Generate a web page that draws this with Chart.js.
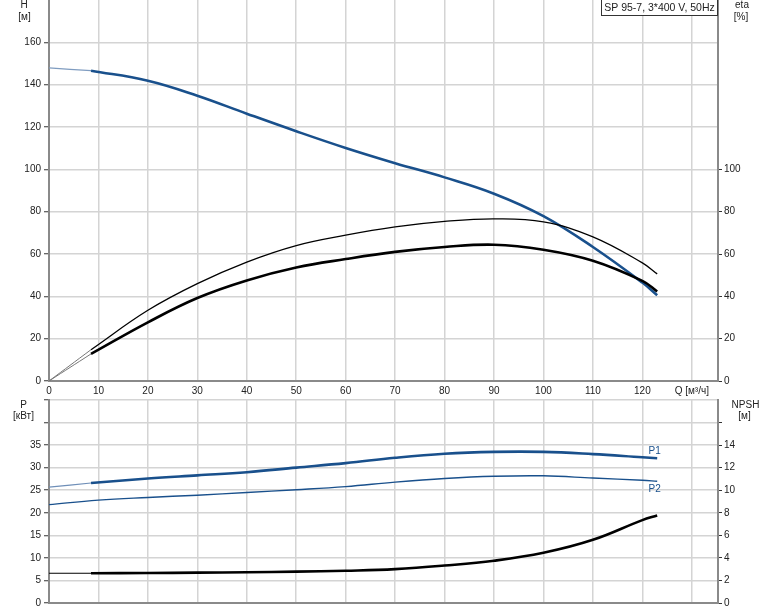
<!DOCTYPE html>
<html>
<head>
<meta charset="utf-8">
<script src="https://cdn.jsdelivr.net/npm/chart.js@4/dist/chart.umd.min.js"></script>
<style>
    body { margin: 0; background: #fff; width: 774px; height: 611px; overflow: hidden; position: relative; }
    #top-canvas { position: absolute; left: 0; top: 0; }
    #bottom-canvas { position: absolute; left: 0; top: 398px; }
</style>
</head>
<body>
<canvas id="top-canvas" width="774" height="400"></canvas>
<canvas id="bottom-canvas" width="774" height="213"></canvas>
<script>
// ********************** Data ********************** //
const qStart = [0, 8.5];   // thin part of the curves (outside the working range)
const qMain = [8.5, 20, 30, 40, 50, 60, 70, 80, 90, 100, 110, 120, 123];

const headStart = [147.9, 146.6];
const headMain = [146.6, 141.9, 134.8, 126.3, 118.0, 110.1, 102.9, 96.2, 88.5, 77.9, 63.3, 46.5, 40.5];

const etaStart = [0, 14.8];
const etaMain = [14.8, 33.4, 46.0, 56.2, 64.0, 68.9, 72.8, 75.4, 76.6, 75.2, 68.1, 55.8, 50.6];

const eta2Start = [0, 12.8];
const eta2Main = [12.8, 27.7, 39.2, 47.5, 53.6, 57.6, 61.0, 63.3, 64.4, 62.0, 56.8, 47.3, 42.3];

const p1Start = [25.7, 26.6];
const p1Main = [26.6, 27.6, 28.3, 29.0, 30.0, 31.0, 32.2, 33.1, 33.5, 33.5, 33.0, 32.3, 32.1];

const qP2 = [0, 10, 20, 30, 40, 50, 60, 70, 80, 90, 100, 110, 120, 123];
const p2 = [21.8, 22.8, 23.4, 23.9, 24.5, 25.1, 25.8, 26.8, 27.6, 28.1, 28.2, 27.7, 27.2, 27.0];

const npshStart = [2.64, 2.64];
const npshMain = [2.64, 2.66, 2.69, 2.72, 2.78, 2.86, 3.0, 3.32, 3.75, 4.45, 5.6, 7.35, 7.76];

const headTicks = [0, 20, 40, 60, 80, 100, 120, 140, 160];
const etaTicks = [0, 20, 40, 60, 80, 100];
const powerTicks = [0, 5, 10, 15, 20, 25, 30, 35];
const npshTicks = [0, 2, 4, 6, 8, 10, 12, 14];

const pumpTitle = 'SP 95-7, 3*400 V, 50Hz';

const blue = '#19508c';
const gridColor = '#d4d4d4';
const axisColor = '#8a8a8a';
const textColor = '#222';
const font = { family: '"Liberation Sans", Arial, sans-serif', size: 10 };

function pts(xs, ys) {
    return xs.map((x, i) => ({ x: x, y: ys[i] }));
}

function line(data, color, width, axis) {
    return {
        data: data,
        borderColor: color,
        borderWidth: width,
        pointRadius: 0,
        tension: 0.4,
        fill: false,
        yAxisID: axis
    };
}

// fixed sizes so that both plots line up like the original
function fixWidth(w) {
    return (scale) => { scale.width = w; scale.paddingTop = 0; scale.paddingBottom = 0; };
}
function fixHeight(h) {
    return (scale) => { scale.height = h; scale.paddingLeft = 0; scale.paddingRight = 0; };
}

// texts outside the plot (axis titles, box, P1/P2)
const textPlugin = {
    id: 'extraTexts',
    afterDraw(chart, args, opts) {
        const ctx = chart.ctx;
        ctx.save();
        ctx.font = '10px "Liberation Sans", Arial, sans-serif';
        ctx.textAlign = 'center';
        ctx.textBaseline = 'middle';
        if (opts.box) {
            ctx.font = '10.5px "Liberation Sans", Arial, sans-serif';
            ctx.fillStyle = '#fff';
            ctx.fillRect(601.5, -1, 116, 16.5);
            ctx.strokeStyle = '#333';
            ctx.lineWidth = 1;
            ctx.strokeRect(601.5, -1, 116, 16.5);
            ctx.fillStyle = textColor;
            ctx.fillText(opts.box, 659.5, 8);
            ctx.font = '10px "Liberation Sans", Arial, sans-serif';
        }
        for (const t of opts.texts) {
            ctx.fillStyle = t.color || textColor;
            let x = t.x, y = t.y;
            if (t.q !== undefined) {
                x = chart.scales.x.getPixelForValue(t.q);
                y = chart.scales[t.axis].getPixelForValue(t.v) + t.dy;
            }
            ctx.fillText(t.text, x, y);
        }
        ctx.restore();
    }
};

Chart.register(textPlugin);

// ********************** Top chart: H and eta ********************** //
new Chart(document.getElementById('top-canvas'), {
    type: 'line',
    data: {
        datasets: [
            line(pts(qStart, etaStart), '#777', 1, 'yEta'),
            line(pts(qStart, eta2Start), '#777', 1, 'yEta'),
            line(pts(qMain, etaMain), '#000', 1.3, 'yEta'),
            line(pts(qMain, eta2Main), '#000', 2.6, 'yEta'),
            line(pts(qStart, headStart), '#7f9cc0', 1.2, 'yH'),
            line(pts(qMain, headMain), blue, 2.6, 'yH')
        ]
    },
    options: {
        responsive: false,
        devicePixelRatio: 1,
        animation: false,
        layout: { padding: 0 },
        plugins: {
            legend: { display: false },
            tooltip: { enabled: false },
            extraTexts: {
                box: pumpTitle,
                texts: [
                    { text: 'H', x: 24, y: 5.5 },
                    { text: '[м]', x: 24.5, y: 17.5 },
                    { text: 'eta', x: 742, y: 5.5 },
                    { text: '[%]', x: 741, y: 17.5 }
                ]
            }
        },
        scales: {
            x: {
                type: 'linear',
                min: 0,
                max: 135.3,
                afterFit: fixHeight(19),
                ticks: {
                    stepSize: 10,
                    includeBounds: false,
                    autoSkip: false,
                    maxRotation: 0,
                    padding: 4,
                    color: textColor,
                    font: font,
                    callback: (v) => v === 130 ? 'Q [м³/ч]' : v
                },
                grid: { color: gridColor, lineWidth: 1.5, drawTicks: false },
                border: { color: axisColor, width: 2 }
            },
            yH: {
                position: 'left',
                min: 0,
                max: 180,
                afterFit: fixWidth(49),
                afterBuildTicks: (scale) => { scale.ticks = headTicks.map(v => ({ value: v })); },
                ticks: { padding: 3, color: textColor, font: font },
                grid: { color: gridColor, lineWidth: 1.5, tickLength: 5, tickColor: '#333', tickWidth: 1 },
                border: { color: axisColor, width: 2 }
            },
            yEta: {
                position: 'right',
                min: 0,
                max: 180,
                afterFit: fixWidth(56),
                afterBuildTicks: (scale) => { scale.ticks = etaTicks.map(v => ({ value: v })); },
                ticks: { padding: 2, color: textColor, font: font },
                grid: { drawOnChartArea: false, tickLength: 4, tickColor: '#333', tickWidth: 1 },
                border: { color: axisColor, width: 2 }
            }
        }
    }
});

// ********************** Bottom chart: P1, P2 and NPSH ********************** //
new Chart(document.getElementById('bottom-canvas'), {
    type: 'line',
    data: {
        datasets: [
            line(pts(qStart, p1Start), '#6f8fb8', 1.2, 'yP'),
            line(pts(qMain, p1Main), blue, 2.6, 'yP'),
            line(pts(qP2, p2), blue, 1.4, 'yP'),
            line(pts(qStart, npshStart), '#000', 1.2, 'yN'),
            line(pts(qMain, npshMain), '#000', 2.6, 'yN')
        ]
    },
    options: {
        responsive: false,
        devicePixelRatio: 1,
        animation: false,
        layout: { padding: { top: 2, left: 0, right: 0, bottom: 0 } },
        plugins: {
            legend: { display: false },
            tooltip: { enabled: false },
            extraTexts: {
                texts: [
                    { text: 'P', x: 23.7, y: 7 },
                    { text: '[кВт]', x: 23.5, y: 18 },
                    { text: 'NPSH', x: 745.5, y: 7 },
                    { text: '[м]', x: 744.5, y: 18.5 },
                    { text: 'P1', q: 122.5, axis: 'yP', v: p1Main[p1Main.length - 1], dy: -7, color: blue },
                    { text: 'P2', q: 122.5, axis: 'yP', v: p2[p2.length - 1], dy: 8, color: blue }
                ]
            }
        },
        scales: {
            x: {
                type: 'linear',
                min: 0,
                max: 135.3,
                afterFit: fixHeight(8),
                ticks: { stepSize: 10, includeBounds: false, display: false },
                grid: { color: gridColor, lineWidth: 1.5, drawTicks: false },
                border: { color: axisColor, width: 2 }
            },
            yP: {
                position: 'left',
                min: 0,
                max: 45,
                afterFit: fixWidth(49),
                afterBuildTicks: (scale) => { scale.ticks = powerTicks.concat([40, 45]).map(v => ({ value: v })); },
                ticks: {
                    padding: 3, color: textColor, font: font,
                    callback: (v) => v >= 40 ? '' : v
                },
                grid: { color: gridColor, lineWidth: 1.5, tickLength: 5, tickColor: '#333', tickWidth: 1 },
                border: { color: axisColor, width: 2 }
            },
            yN: {
                position: 'right',
                min: 0,
                max: 18,
                afterFit: fixWidth(56),
                afterBuildTicks: (scale) => { scale.ticks = npshTicks.concat([16]).map(v => ({ value: v })); },
                ticks: {
                    padding: 2, color: textColor, font: font,
                    callback: (v) => v >= 16 ? '' : v
                },
                grid: { drawOnChartArea: false, tickLength: 4, tickColor: '#333', tickWidth: 1 },
                border: { color: axisColor, width: 2 }
            }
        }
    }
});
</script>
</body>
</html>
